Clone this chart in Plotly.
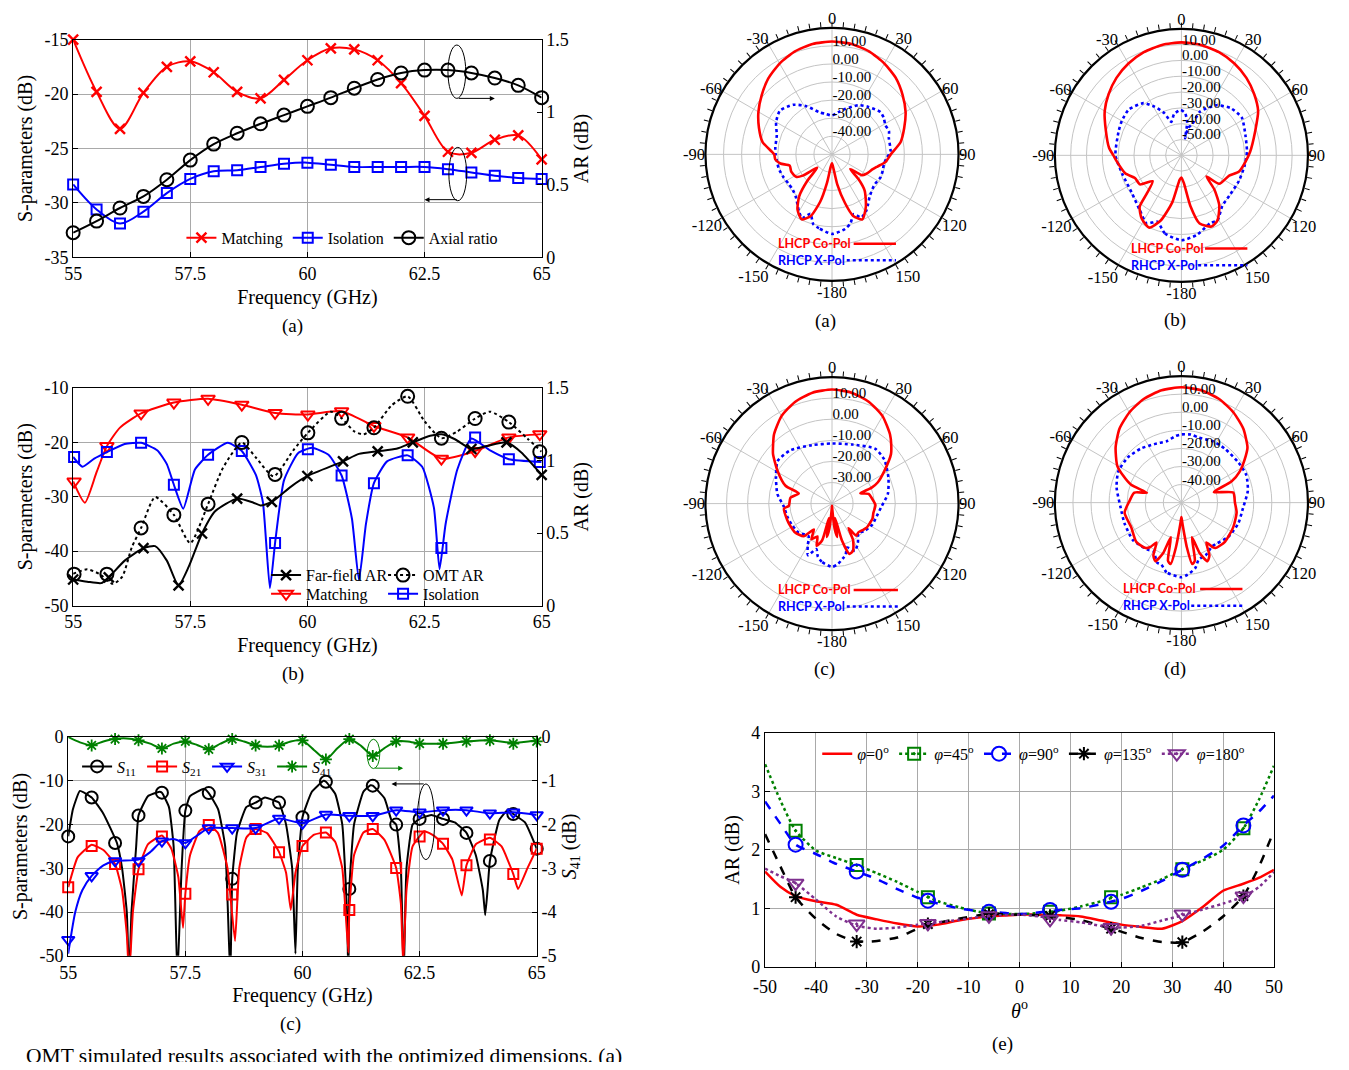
import plotly.graph_objects as go

# page is 1349 x 1070; the browser keeps its default 8 px body margin,
# so the figure itself is 16 px smaller and every pixel position is offset by 8.
PAGE_W, PAGE_H = 1349, 1070
OFF = 8
W, H = PAGE_W - 2 * OFF, PAGE_H - 2 * OFF
SERIF = "Liberation Serif"
SANS = "Lato"
RED, BLUE, BLACK, GREEN, PURPLE = "#ff0000", "#0000ff", "#000000", "#008000", "#7e2f8e"
GRID = "#a9a9a9"
PGRID = "#c4c4c4"

# ---------------- (a) matching / isolation / axial ratio ----------------
a_freq = [55.0, 55.5, 56.0, 56.5, 57.0, 57.5, 58.0, 58.5, 59.0, 59.5, 60.0,
          60.5, 61.0, 61.5, 62.0, 62.5, 63.0, 63.5, 64.0, 64.5, 65.0]
a_matching = [-15.0, -19.8, -23.2, -19.9, -17.5, -17.0, -18.0, -19.8, -20.4, -18.7, -16.9,
              -15.8, -15.9, -16.9, -19.0, -22.0, -25.3, -25.4, -24.2, -23.8, -26.0]
a_isolation = [-28.3, -30.6, -31.9, -30.8, -29.1, -27.8, -27.1, -27.0, -26.7, -26.4, -26.3,
               -26.5, -26.7, -26.7, -26.7, -26.7, -26.9, -27.2, -27.5, -27.7, -27.8]
a_axial_ratio = [0.17, 0.25, 0.34, 0.42, 0.535, 0.67, 0.78, 0.855, 0.92, 0.98, 1.04,
                 1.10, 1.165, 1.225, 1.27, 1.29, 1.29, 1.27, 1.235, 1.185, 1.10]

# ---------------- (b) far-field AR / OMT AR / matching / isolation ----------------
b_ffar_f = [55.0, 55.3, 55.6, 55.76, 56.1, 56.5, 56.75, 57.0, 57.25, 57.47, 57.75, 58.03, 58.5, 58.84,
            59.0, 59.24, 59.65, 60.0, 60.76, 61.1, 61.5, 61.9, 62.25, 62.62, 62.87, 63.15, 63.5,
            63.83, 64.25, 64.56, 65.0]
b_ffar = [0.18, 0.165, 0.155, 0.195, 0.31, 0.396, 0.41, 0.31, 0.139, 0.27, 0.497, 0.65, 0.737, 0.71,
          0.69, 0.714, 0.82, 0.893, 0.994, 1.045, 1.063, 1.08, 1.124, 1.17, 1.18, 1.146, 1.079,
          1.10, 1.124, 1.057, 0.9]
b_ffar_mk_f = [55.0, 55.76, 56.5, 57.25, 57.75, 58.5, 59.24, 60.0, 60.76, 61.5, 62.25, 63.5, 64.25, 65.0]
b_ffar_mk = [0.18, 0.195, 0.396, 0.139, 0.497, 0.737, 0.714, 0.893, 0.994, 1.063, 1.124, 1.079, 1.124, 0.9]

b_omt_f = [55.0, 55.3, 55.55, 55.85, 56.05, 56.25, 56.45, 56.75, 57.15, 57.5, 57.88, 58.2, 58.6, 58.9,
           59.28, 59.7, 60.01, 60.5, 60.73, 61.0, 61.2, 61.42, 61.8, 62.14, 62.5, 62.86, 63.2, 63.58,
           63.9, 64.3, 64.7, 65.0]
b_omt = [0.22, 0.25, 0.22, 0.15, 0.2, 0.4, 0.535, 0.748, 0.625, 0.43, 0.70, 0.95, 1.124, 1.02,
         0.89, 1.07, 1.19, 1.336, 1.29, 1.2, 1.18, 1.225, 1.38, 1.442, 1.27, 1.153, 1.2, 1.289,
         1.336, 1.264, 1.15, 1.06]
b_mk_f = [55.02, 55.72, 56.45, 57.15, 57.88, 58.6, 59.31, 60.01, 60.73, 61.42, 62.14, 62.86, 63.58, 64.3, 64.96]
b_omt_mk = [0.217, 0.217, 0.535, 0.625, 0.699, 1.124, 0.904, 1.19, 1.29, 1.225, 1.442, 1.153, 1.289, 1.264, 1.06]

b_match_f = [55.0, 55.25, 55.5, 55.72, 56.0, 56.45, 57.15, 57.88, 58.6, 59.31, 60.01, 60.73, 61.42,
             62.14, 62.86, 63.58, 64.3, 65.0]
b_match = [-27.2, -31.1, -25.5, -20.7, -17.3, -14.7, -12.7, -12.0, -13.1, -14.6, -14.9, -14.3, -17.0,
           -19.1, -23.0, -21.6, -19.1, -18.5]
b_match_mk = [-27.2, -20.7, -14.7, -12.7, -12.0, -13.1, -14.6, -14.9, -14.3, -17.0, -19.1, -23.0, -21.6, -19.1, -18.5]

b_iso_f = [55.0, 55.2, 55.45, 55.72, 56.1, 56.45, 56.8, 57.0, 57.15, 57.35, 57.6, 57.88, 58.3, 58.6,
           58.9, 59.05, 59.2, 59.31, 59.5, 59.8, 60.1, 60.45, 60.73, 60.95, 61.1, 61.25, 61.42, 61.7,
           62.14, 62.45, 62.7, 62.82, 62.95, 63.2, 63.5, 63.9, 64.3, 65.0]
b_iso = [-22.7, -24.5, -23.0, -21.8, -20.3, -20.1, -21.5, -24.0, -27.8, -32.2, -25.0, -22.3, -20.1, -21.6,
         -26.0, -31.0, -46.8, -38.5, -27.0, -22.0, -21.0, -22.3, -26.1, -34.0, -45.3, -35.0, -27.5, -23.5,
         -22.4, -24.5, -32.0, -43.3, -35.0, -25.0, -19.3, -21.5, -23.1, -23.6]
b_iso_mk = [-22.7, -21.8, -20.1, -27.8, -22.3, -21.6, -38.5, -21.3, -26.1, -27.5, -22.4, -39.4, -19.1, -23.1, -23.6]

# ---------------- (c) S11 / S21 / S31 / S41 ----------------
c_mk_f = [55.0, 55.5, 56.0, 56.5, 57.0, 57.5, 58.0, 58.5, 59.0, 59.5, 60.0,
          60.5, 61.0, 61.5, 62.0, 62.5, 63.0, 63.5, 64.0, 64.5, 65.0]
c_s11_f = [55.0, 55.1, 55.25, 55.5, 55.75, 56.04, 56.15, 56.25, 56.3, 56.35, 56.45, 56.5, 56.7, 56.95,
           57.0, 57.15, 57.25, 57.33, 57.42, 57.5, 57.6, 57.9, 58.0, 58.2, 58.35, 58.46, 58.5, 58.6,
           58.8, 59.0, 59.2, 59.4, 59.5, 59.65, 59.78, 59.85, 59.9, 60.0, 60.2, 60.45, 60.5, 60.7,
           60.85, 60.95, 60.98, 61.0, 61.1, 61.3, 61.45, 61.5, 61.75, 61.9, 62.0, 62.1, 62.16, 62.22,
           62.35, 62.5, 62.75, 63.0, 63.25, 63.5, 63.7, 63.85, 63.9, 63.95, 64.0, 64.2, 64.4, 64.5,
           64.75, 65.0]
c_s11 = [-22.7, -16.5, -12.3, -13.8, -17.5, -24.2, -30, -40, -55, -40, -25, -17.9, -13.5, -12.5,
         -12.7, -16, -25, -55, -30, -16.8, -13.5, -11.8, -12.8, -16.5, -25, -55, -32.4, -22,
         -16, -14.97, -13.8, -14.5, -14.97, -20, -30, -49.5, -30, -18.3, -12.5, -10, -10.2, -13,
         -20, -40, -55, -34.7, -20, -12.5, -11, -11.1, -14, -19, -20, -30, -55, -30,
         -20, -18.7, -17.8, -18.7, -19.5, -21.9, -27, -35, -40.7, -35, -28.3, -19, -16.5, -17.6,
         -19.5, -25.5]
c_s11_mk = [-22.7, -13.8, -24.2, -17.9, -12.7, -16.8, -12.8, -32.4, -14.97, -14.97, -18.3,
            -10.2, -34.7, -11.1, -20.0, -18.7, -18.7, -21.9, -28.3, -17.6, -25.5]

c_s21_f = [55.0, 55.2, 55.5, 55.75, 56.0, 56.15, 56.25, 56.3, 56.38, 56.5, 56.7, 57.0, 57.2, 57.35,
           57.45, 57.5, 57.6, 57.8, 58.0, 58.2, 58.4, 58.56, 58.65, 58.8, 59.0, 59.25, 59.5, 59.65,
           59.75, 59.85, 60.0, 60.25, 60.5, 60.7, 60.85, 60.98, 61.0, 61.1, 61.3, 61.5, 61.75, 62.0,
           62.1, 62.15, 62.22, 62.35, 62.6, 62.8, 63.0, 63.2, 63.4, 63.5, 63.7, 64.0, 64.25, 64.5,
           64.6, 64.8, 65.0]
c_s21 = [-34.3, -27.5, -24.6, -25.8, -29.0, -35, -45, -55, -40, -30.2, -24.5, -22.5, -25.5, -32,
         -43.6, -35.8, -27, -21.5, -20.1, -22, -30, -46.6, -30, -23, -21.0, -22.0, -26.3, -31,
         -39.5, -31, -24.9, -22.3, -21.8, -24, -30, -49.3, -39.5, -27, -21.8, -21.0, -23.5, -29.9,
         -38, -52, -35, -25, -21.5, -22.5, -24.4, -28, -36.2, -29.3, -24.5, -23.0, -25, -31.3,
         -34.7, -30, -25.5]
c_s21_mk = [-34.3, -24.9, -29.0, -30.2, -22.7, -35.8, -20.1, -36.0, -21.0, -26.3, -24.9,
            -21.8, -39.5, -21.0, -29.9, -22.7, -24.4, -29.3, -23.4, -31.3, -25.5]

c_s31_f = [55.0, 55.15, 55.3, 55.5, 55.75, 56.0, 56.5, 56.75, 57.0, 57.25, 57.5, 57.75, 58.0, 58.5,
           59.0, 59.5, 60.0, 60.5, 61.0, 61.5, 62.0, 62.5, 63.0, 63.5, 64.0, 64.5, 65.0]
c_s31 = [-49.5, -40, -35, -31.7, -29.3, -28.3, -28.0, -26.3, -23.8, -23.3, -24.2, -22.5, -20.8, -20.8,
         -20.8, -18.6, -19.7, -17.7, -18.0, -18.0, -16.7, -17.2, -16.7, -16.7, -17.4, -17.2, -17.8]
c_s31_mk = [-46.3, -31.7, -28.3, -28.3, -23.8, -24.2, -20.8, -20.8, -20.8, -18.6, -19.7,
            -17.7, -18.0, -18.0, -16.7, -17.2, -16.7, -16.7, -17.4, -17.2, -17.8]

c_s41_f = [55.0, 55.25, 55.5, 55.75, 56.0, 56.25, 56.5, 56.75, 57.0, 57.25, 57.5, 57.75, 58.0, 58.25,
           58.5, 58.75, 59.0, 59.25, 59.5, 59.75, 60.0, 60.25, 60.5, 60.75, 61.0, 61.25, 61.5, 61.75,
           62.0, 62.25, 62.5, 62.75, 63.0, 63.5, 64.0, 64.5, 65.0]
c_s41 = [0.0, -0.12, -0.19, -0.1, -0.04, -0.03, -0.07, -0.15, -0.26, -0.15, -0.10, -0.18, -0.28, -0.15,
         -0.045, -0.1, -0.19, -0.22, -0.19, -0.1, -0.075, -0.3, -0.51, -0.25, -0.045, -0.2, -0.43, -0.25,
         -0.10, -0.1, -0.15, -0.15, -0.15, -0.10, -0.075, -0.13, -0.07]
c_s41_mk_f = [55.5, 56.0, 56.5, 57.0, 57.5, 58.0, 58.5, 59.0, 59.5, 60.0,
              60.5, 61.0, 61.5, 62.0, 62.5, 63.0, 63.5, 64.0, 64.5, 65.0]
c_s41_mk = [-0.19, -0.045, -0.075, -0.26, -0.10, -0.28, -0.045, -0.19, -0.19, -0.075,
            -0.51, -0.045, -0.43, -0.10, -0.15, -0.15, -0.10, -0.075, -0.15, -0.10]

# ---------------- (e) AR vs theta ----------------
e_theta = [-50, -47, -44, -40, -36, -32, -28, -24, -20, -16, -12, -8, -4, 0,
           4, 8, 12, 16, 20, 24, 28, 32, 36, 40, 44, 47, 50]
e_phi0 = [1.63, 1.37, 1.21, 1.12, 1.06, 0.89, 0.81, 0.74, 0.69, 0.72, 0.79, 0.84, 0.87, 0.89,
          0.89, 0.88, 0.86, 0.79, 0.72, 0.68, 0.65, 0.78, 1.02, 1.3, 1.42, 1.52, 1.66]
e_phi45 = [3.47, 2.85, 2.33, 1.99, 1.86, 1.74, 1.6, 1.45, 1.28, 1.12, 1.02, 0.94, 0.91, 0.9,
           0.92, 0.96, 1.03, 1.12, 1.23, 1.36, 1.5, 1.67, 1.82, 2.0, 2.37, 2.85, 3.44]
e_phi90 = [2.83, 2.45, 2.09, 1.93, 1.76, 1.63, 1.5, 1.33, 1.18, 1.08, 1.0, 0.95, 0.93, 0.9,
           0.93, 0.97, 1.0, 1.07, 1.16, 1.3, 1.47, 1.66, 1.85, 2.07, 2.42, 2.65, 2.93]
e_phi135 = [2.27, 1.72, 1.19, 0.82, 0.56, 0.43, 0.44, 0.5, 0.65, 0.75, 0.82, 0.88, 0.9, 0.89,
            0.88, 0.85, 0.8, 0.7, 0.6, 0.49, 0.42, 0.42, 0.6, 0.86, 1.21, 1.7, 2.33]
e_phi180 = [1.68, 1.55, 1.43, 1.15, 0.86, 0.7, 0.65, 0.67, 0.72, 0.76, 0.8, 0.85, 0.88, 0.89,
            0.86, 0.8, 0.76, 0.7, 0.67, 0.7, 0.79, 0.88, 0.98, 1.08, 1.2, 1.36, 1.62]
e_mk_theta = [-44, -32, -18, -6, 6, 18, 32, 44]
e_phi45_mk = [2.33, 1.74, 1.19, 0.91, 0.94, 1.19, 1.67, 2.37]
e_phi90_mk = [2.09, 1.63, 1.13, 0.94, 0.97, 1.11, 1.66, 2.42]
e_phi135_mk = [1.19, 0.43, 0.73, 0.90, 0.87, 0.65, 0.42, 1.21]
e_phi180_mk = [1.43, 0.73, 0.74, 0.87, 0.81, 0.67, 0.90, 1.21]

# ---------------- polar patterns (theta in deg, gain in dB) ----------------
pa_co_t = [-180, -174, -170, -166, -161, -155, -148, -142, -137, -132, -126, -122, -113, -105, -100, -95, -90,
           -80, -70, -60, -50, -40, -30, -20, -10, 0, 10, 20, 30, 40, 50, 60, 70, 80, 90, 98, 105, 110,
           120, 125, 129, 133, 138, 147, 155, 161, 165, 170, 175, 180]
pa_co = [-45, -43, -34, -23, -14, -10.3, -14, -20.5, -30, -39, -30, -26.6, -25.5, -25.8, -21, -18.5, -18,
         -11, -7, -3, 0.8, 4.8, 8, 10.5, 12, 12.4, 12, 10.5, 8, 5, 1, -3, -7.5, -11.5, -17.5, -20, -24, -26,
         -28.3, -30, -37, -30, -23, -15.6, -10.3, -14, -22, -33, -43, -45]
pa_x_t = [-180, -170, -165, -160, -155, -150, -146, -140, -132, -124, -115, -105, -97, -90, -83, -71, -60,
          -50, -38, -28, -17, -8, 0, 8, 16, 28, 37, 49, 55, 61, 68, 74, 87, 95, 101, 108, 115, 126, 138,
          145, 149, 155, 160, 165, 170, 180]
pa_x = [-6, -8.5, -10, -15, -11, -13.5, -16, -19, -20.8, -21, -20.3, -19.5, -19.3, -18.8, -18.4, -17.7, -14.3,
        -12.4, -15.2, -19.8, -25.6, -27.5, -28.5, -26.5, -23.9, -19.2, -17, -14.4, -15, -16.3, -16, -17.3, -17.6,
        -20, -20.8, -20.5, -20.3, -21.1, -18.8, -15.5, -13.4, -11.5, -14.8, -10.5, -8.1, -6]

pb_co_t = [-180, -176, -169, -162.5, -156, -148, -141, -138, -132, -125, -116, -108, -96, -90, -84, -72, -60,
           -50, -40, -30, -20, -10, 0, 10, 20, 30, 40, 50, 60, 72, 87, 96, 106, 113, 127, 130, 136, 143, 151,
           157, 165, 170, 175, 180]
pb_co = [-46, -44.6, -29.7, -17, -10, -12.7, -18, -27, -35.6, -28, -27.3, -22.8, -19.2, -17, -14, -9.8, -4,
         0.1, 3.9, 7, 9.4, 10.9, 11.4, 10.9, 9.4, 7, 3.9, 0.1, -4, -11, -16.5, -19.4, -22.3, -27.2, -30.1,
         -39.3, -30, -20.2, -13, -11.1, -15.4, -27.7, -42.5, -46]
pb_x_t = [-180, -168, -160, -153, -143, -127, -107, -90, -69, -60, -49, -36, -29, -22, -17, -10, -1, 5, 10,
          12.3, 14, 19, 23, 35, 46, 58, 72, 87, 99, 114, 130, 141, 151, 157, 169, 180]
pb_x = [-6.3, -9.6, -15.4, -11.6, -16.4, -20.7, -20.8, -18.3, -17.5, -16.5, -15.9, -19.2, -24.8, -31.2, -37.9,
        -33.5, -31.3, -33.2, -39, -49, -42, -39.4, -30, -21.4, -16.9, -15, -17.5, -18.5, -19.5, -20.2, -20.4,
        -18.9, -13, -13.4, -8.8, -6.3]

pc_co_t = [-180, -177, -174, -171, -168, -165, -160, -156, -150, -145, -139, -128, -119, -110, -96, -93, -82,
           -73, -69, -59, -50, -45, -40, -30, -20, -10, 0, 10, 20, 30, 40, 45, 50, 58, 65, 68, 70, 75, 82,
           92, 103, 110, 117, 125, 130, 137, 143, 146, 150, 156, 161, 165, 168, 171, 174, 177, 180]
pc_co = [-39, -37, -28, -24, -33, -22, -18.7, -23, -20.5, -25, -19.5, -17.8, -17.6, -17.4, -17.1, -19.5, -20.1,
         -23.5, -16.4, -9.9, -3.5, -0.5, 2.8, 7.9, 11.3, 13.4, 14.1, 13.4, 11.3, 7.9, 2.8, -0.3, -3.5, -10.7,
         -16, -19.7, -25.7, -22, -21, -19.4, -19.9, -19.5, -19.8, -20, -20.7, -21.5, -21, -26, -20, -15.5,
         -14.8, -22, -33, -24, -28, -37, -39]
pc_x_t = [-180, -170, -165, -161, -155, -150, -144, -131, -118, -106, -94, -80, -65, -52, -38, -19, 0, 19,
          38, 50, 65, 80, 94, 106, 118, 130, 138, 146, 154, 161, 165, 169, 175, 180]
pc_x = [-10, -12, -14, -17.2, -13, -17, -21, -19, -18.5, -17.9, -17.2, -13.7, -10.7, -7.3, -7.9, -10.7, -11.5,
        -10.4, -6.9, -7.6, -10.5, -13.1, -16.6, -18, -18.5, -19.8, -21.3, -18, -15.1, -18, -15, -13.4, -11, -10]

pd_co_t = [-180, -177, -173, -170, -167, -163, -160, -156, -152, -148, -145, -142, -131, -116, -100, -88, -78,
           -74, -70.5, -65, -60, -50, -40, -30, -20, -10, 0, 10, 20, 30, 40, 50, 54, 62, 67, 72, 79, 90, 100,
           115, 132, 143, 145, 148, 152, 156, 160, 163, 167, 170, 173, 177, 180]
pd_co = [-42, -38, -25, -15.5, -17, -30, -20, -14.5, -17, -24, -20, -18.1, -16.9, -19.1, -18.1, -21.3, -23.4,
         -30.2, -20.5, -14.3, -9, -2.5, 3.3, 7.6, 11, 13.1, 13.8, 13.1, 11, 7.6, 3.3, -2.3, -6, -13.5, -19.8,
         -31.1, -20.8, -20.4, -19, -18.3, -17.6, -18.6, -20, -24, -17, -14.5, -20, -30, -17, -15.5, -25, -38, -42]
pd_x_t = [-180, -168, -162, -158, -150, -144, -128, -110, -95, -77, -64, -50, -37, -25, -13, -5, 0, 8, 15,
          27, 39, 55, 67, 80, 95, 110, 126, 145, 155, 163, 168, 175, 180]
pd_x = [-8.7, -10.6, -14, -14.2, -19, -17.9, -16.1, -16.5, -16.3, -13.2, -11.1, -11.2, -12.6, -14.3, -15, -13,
        -12.3, -12, -12.8, -11.9, -11.7, -11.4, -11, -12.7, -15.8, -16.5, -17.9, -20.4, -18, -17.1, -13, -10, -8.7]

# ---------------- tick labels ----------------
freq_ticks = [55, 57.5, 60, 62.5, 65]
freq_ticktext = ["55", "57.5", "60", "62.5", "65"]
a_left_ticks = [-35, -30, -25, -20, -15]
ar_ticks = [0, 0.5, 1, 1.5]
b_left_ticks = [-50, -40, -30, -20, -10]
c_left_ticks = [-50, -40, -30, -20, -10, 0]
c_right_ticks = [-5, -4, -3, -2, -1, 0]
e_x_ticks = [-50, -40, -30, -20, -10, 0, 10, 20, 30, 40, 50]
e_y_ticks = [0, 1, 2, 3, 4]
ang_ticks = [0, 30, 60, 90, 120, 150, 180, 210, 240, 270, 300, 330]
ang_ticktext = ["0", "30", "60", "90", "120", "150", "-180", "-150", "-120", "-90", "-60", "-30"]
ring_ticks_a = [-40, -30, -20, -10, 0, 10]
ring_ticks_b = [-50, -40, -30, -20, -10, 0, 10]
ring_ticks_c = [-30, -20, -10, 0, 10]
ring_ticks_d = [-40, -30, -20, -10, 0, 10]


def txt(vals):
    return [f"{v:g}" for v in vals]


def rtxt(vals):
    return [f"{v:.2f}" for v in vals]


def fx(px):
    return (px - OFF) / W


def fy(py):
    return 1 - (py - OFF) / H


fig = go.Figure()


def add_series(xl, yl, xm, ym, name, color, symbol, msize, xa, ya, legend,
               dash="solid", lw=2, smoothing=0.6, mlw=2, legend_marker=True):
    fig.add_trace(go.Scatter(x=xl, y=yl, mode="lines", xaxis=xa, yaxis=ya, showlegend=False,
                             line=dict(color=color, width=lw, dash=dash, shape="spline", smoothing=smoothing),
                             hoverinfo="skip"))
    mk = dict(symbol=symbol, size=msize, color=color, line=dict(color=color, width=mlw))
    if xm is not None:
        fig.add_trace(go.Scatter(x=xm, y=ym, mode="markers", xaxis=xa, yaxis=ya, showlegend=False,
                                 marker=mk, cliponaxis=False))
    fig.add_trace(go.Scatter(x=[None], y=[None], mode="lines+markers" if legend_marker else "lines",
                             name=name, xaxis=xa, yaxis=ya, legend=legend,
                             line=dict(color=color, width=lw, dash=dash), marker=mk))


# (a)
add_series(a_freq, a_matching, a_freq, a_matching, "Matching", RED, "x-thin", 10, "x", "y", "legend",
           smoothing=0.9, mlw=2.4)
add_series(a_freq, a_isolation, a_freq, a_isolation, "Isolation", BLUE, "square-open", 10, "x", "y", "legend",
           smoothing=0.9)
add_series(a_freq, a_axial_ratio, a_freq, a_axial_ratio, "Axial ratio", BLACK, "circle-open", 13, "x", "y2",
           "legend", smoothing=0.9)

# (b)
add_series(b_ffar_f, b_ffar, b_ffar_mk_f, b_ffar_mk, "Far-field AR", BLACK, "x-thin", 10, "x2", "y4", "legend2",
           mlw=2.4)
add_series(b_omt_f, b_omt, b_mk_f, b_omt_mk, "OMT AR", BLACK, "circle-open", 13, "x2", "y4", "legend2",
           dash="dot")
add_series(b_match_f, b_match, b_mk_f, b_match_mk, "Matching", RED, "triangle-down-open", 12, "x2", "y3",
           "legend3")
add_series(b_iso_f, b_iso, b_mk_f, b_iso_mk, "Isolation", BLUE, "square-open", 10, "x2", "y3", "legend3",
           smoothing=0.5)

# (c)
add_series(c_s11_f, c_s11, c_mk_f, c_s11_mk, "<i>S</i><sub>11</sub>", BLACK, "circle-open", 12, "x3", "y5",
           "legend4", smoothing=0.4)
add_series(c_s21_f, c_s21, c_mk_f, c_s21_mk, "<i>S</i><sub>21</sub>", RED, "square-open", 10, "x3", "y5",
           "legend4", smoothing=0.4)
add_series(c_s31_f, c_s31, c_mk_f, c_s31_mk, "<i>S</i><sub>31</sub>", BLUE, "triangle-down-open", 11, "x3",
           "y5", "legend4")
add_series(c_s41_f, c_s41, c_s41_mk_f, c_s41_mk, "<i>S</i><sub>41</sub>", GREEN, "asterisk-open", 10, "x3",
           "y6", "legend4", mlw=1.8)

# (e)
add_series(e_theta, e_phi0, None, None, "<i>φ</i>=0<sup>o</sup>", RED, "circle", 1, "x4", "y7", "legend5",
           lw=2.5, legend_marker=False)
add_series(e_theta, e_phi45, e_mk_theta, e_phi45_mk, "<i>φ</i>=45<sup>o</sup>", GREEN, "square-open-dot", 12,
           "x4", "y7", "legend5", dash="dot", lw=2.5)
add_series(e_theta, e_phi90, e_mk_theta, e_phi90_mk, "<i>φ</i>=90<sup>o</sup>", BLUE, "circle-open", 14,
           "x4", "y7", "legend5", dash="dash", lw=2.5)
add_series(e_theta, e_phi135, e_mk_theta, e_phi135_mk, "<i>φ</i>=135<sup>o</sup>", BLACK, "asterisk-open", 11,
           "x4", "y7", "legend5", dash="dash", lw=2.5)
add_series(e_theta, e_phi180, e_mk_theta, e_phi180_mk, "<i>φ</i>=180<sup>o</sup>", PURPLE,
           "triangle-down-open-dot", 14, "x4", "y7", "legend5", dash="dot", lw=2.5)

# polar traces
polar_sets = [
    ("polar", pa_co_t, pa_co, pa_x_t, pa_x),
    ("polar2", pb_co_t, pb_co, pb_x_t, pb_x),
    ("polar3", pc_co_t, pc_co, pc_x_t, pc_x),
    ("polar4", pd_co_t, pd_co, pd_x_t, pd_x),
]
for sp, ct, cv, xt, xv in polar_sets:
    fig.add_trace(go.Scatterpolar(theta=xt, r=xv, mode="lines", subplot=sp, showlegend=False,
                                  line=dict(color=BLUE, width=2.6, dash="dot", shape="spline", smoothing=0.6)))
    fig.add_trace(go.Scatterpolar(theta=ct, r=cv, mode="lines", subplot=sp, showlegend=False,
                                  line=dict(color=RED, width=2.6, shape="spline", smoothing=0.6)))
for sp in ["polar5", "polar6", "polar7", "polar8"]:
    fig.add_trace(go.Scatterpolar(theta=[None], r=[None], mode="lines", subplot=sp, showlegend=False))


# ---------------- axes ----------------
def xax(p0, p1, anchor, rng, tv, tt, title):
    return dict(domain=[fx(p0), fx(p1)], anchor=anchor, range=rng, tickvals=tv, ticktext=tt,
                showgrid=True, gridcolor=GRID, gridwidth=1, zeroline=False,
                showline=True, linecolor="black", linewidth=1.2, mirror=True,
                ticks="inside", ticklen=5, tickcolor="black",
                tickfont=dict(family=SERIF, size=18),
                title=dict(text=title, font=dict(family=SERIF, size=20), standoff=6))


def yax(p0, p1, anchor, rng, tv, tt, title, grid=True):
    return dict(domain=[fy(p1), fy(p0)], anchor=anchor, range=rng, tickvals=tv, ticktext=tt,
                showgrid=grid, gridcolor=GRID, gridwidth=1, zeroline=False,
                showline=True, linecolor="black", linewidth=1.2, mirror=True,
                ticks="inside", ticklen=5, tickcolor="black",
                tickfont=dict(family=SERIF, size=18),
                title=dict(text=title, font=dict(family=SERIF, size=20), standoff=6))


def y2ax(base, anchor, rng, tv, tt, title):
    return dict(overlaying=base, side="right", anchor=anchor, range=rng, tickvals=tv, ticktext=tt,
                showgrid=False, zeroline=False, showline=True, linecolor="black", linewidth=1.2,
                ticks="inside", ticklen=5, tickcolor="black",
                tickfont=dict(family=SERIF, size=18),
                title=dict(text=title, font=dict(family=SERIF, size=20), standoff=6))


def polar_main(cx, cy, rad, rrange, rticks):
    return dict(domain=dict(x=[fx(cx - rad), fx(cx + rad)], y=[fy(cy + rad), fy(cy - rad)]),
                bgcolor="white",
                angularaxis=dict(rotation=90, direction="clockwise", tickvals=ang_ticks, ticktext=ang_ticktext,
                                 showline=False, ticks="", showgrid=True, gridcolor=PGRID, gridwidth=1,
                                 tickfont=dict(family=SERIF, size=16.5, color="black")),
                radialaxis=dict(range=rrange, tickvals=rticks, showticklabels=False, angle=90,
                                showline=False, ticks="", showgrid=True, gridcolor=PGRID, gridwidth=1))


def polar_ring(cx, cy, rad, rrange, rticks):
    # ring with fine angular ticks; its radial axis carries the ring labels, lifted a few px above each ring
    lift = 5.0 * (rrange[1] - rrange[0]) / rad
    return dict(domain=dict(x=[fx(cx - rad), fx(cx + rad)], y=[fy(cy + rad), fy(cy - rad)]),
                bgcolor="rgba(0,0,0,0)",
                angularaxis=dict(rotation=90, direction="clockwise", tickvals=list(range(0, 360, 5)),
                                 showticklabels=False, ticks="outside", ticklen=5, tickwidth=1.2,
                                 tickcolor="black", showline=True, linecolor="black", linewidth=2.2,
                                 showgrid=False),
                radialaxis=dict(range=rrange, tickvals=[v + lift for v in rticks], ticktext=rtxt(rticks),
                                angle=90, tickangle=90, side="clockwise", showline=False, ticks="",
                                showgrid=False, tickfont=dict(family=SERIF, size=15, color="black")))


PR = 129
pol = [(833, 147, [-50, 20], ring_ticks_a), (1188, 148, [-60, 20], ring_ticks_b),
       (833, 503, [-40, 20], ring_ticks_c), (1188, 502, [-50, 20], ring_ticks_d)]

layout = dict(
    width=W, height=H, margin=dict(l=0, r=0, t=0, b=0),
    paper_bgcolor="white", plot_bgcolor="white",
    font=dict(family=SERIF, size=18, color="black"),
    showlegend=True,
    xaxis=xax(62, 538, "y", [55, 65], freq_ticks, freq_ticktext, "Frequency (GHz)"),
    yaxis=yax(30, 252, "x", [-35, -15], a_left_ticks, txt(a_left_ticks), "S-parameters (dB)"),
    yaxis2=y2ax("y", "x", [0, 1.5], ar_ticks, txt(ar_ticks), "AR (dB)"),
    xaxis2=xax(62, 538, "y3", [55, 65], freq_ticks, freq_ticktext, "Frequency (GHz)"),
    yaxis3=yax(385, 607, "x2", [-50, -10], b_left_ticks, txt(b_left_ticks), "S-parameters (dB)"),
    yaxis4=y2ax("y3", "x2", [0, 1.5], ar_ticks, txt(ar_ticks), "AR (dB)"),
    xaxis3=xax(57, 533, "y5", [55, 65], freq_ticks, freq_ticktext, "Frequency (GHz)"),
    yaxis5=yax(741, 964, "x3", [-50, 0], c_left_ticks, txt(c_left_ticks), "S-parameters (dB)"),
    yaxis6=y2ax("y5", "x3", [-5, 0], c_right_ticks, txt(c_right_ticks), "<i>S</i><sub>41</sub> (dB)"),
    xaxis4=xax(765, 1282, "y7", [-50, 50], e_x_ticks, txt(e_x_ticks), "<i>θ</i><sup>o</sup>"),
    yaxis7=yax(737, 975, "x4", [0, 4], e_y_ticks, txt(e_y_ticks), "AR (dB)"),
    legend=dict(x=fx(172), y=fy(232), xanchor="left", yanchor="middle", orientation="h",
                bgcolor="rgba(0,0,0,0)", font=dict(family=SERIF, size=16), itemwidth=30),
    legend2=dict(x=fx(258), y=fy(576), xanchor="left", yanchor="middle", orientation="h",
                 bgcolor="rgba(0,0,0,0)", font=dict(family=SERIF, size=16), itemwidth=30,
                 entrywidthmode="pixels", entrywidth=72),
    legend3=dict(x=fx(258), y=fy(595), xanchor="left", yanchor="middle", orientation="h",
                 bgcolor="rgba(0,0,0,0)", font=dict(family=SERIF, size=16), itemwidth=30,
                 entrywidthmode="pixels", entrywidth=72),
    legend4=dict(x=fx(66), y=fy(771), xanchor="left", yanchor="middle", orientation="h",
                 bgcolor="rgba(0,0,0,0)", font=dict(family=SERIF, size=16), itemwidth=30,
                 entrywidthmode="pixels", entrywidth=20),
    legend5=dict(x=fx(818), y=fy(758), xanchor="left", yanchor="middle", orientation="h",
                 bgcolor="rgba(0,0,0,0)", font=dict(family=SERIF, size=16), itemwidth=30),
)
for i, (cx, cy, rr, rt) in enumerate(pol):
    key = "polar" if i == 0 else f"polar{i + 1}"
    layout[key] = polar_main(cx, cy, PR, rr, rt)
    layout[f"polar{i + 5}"] = polar_ring(cx, cy, PR, rr, rt)
fig.update_layout(**layout)
fig.update_xaxes(ticklabelstandoff=4, selector=dict(anchor="y7"))

# ---------------- annotations & shapes ----------------
ann = []
shapes = []
captions = [("(a)", 285, 322), ("(b)", 285, 677), ("(c)", 283, 1033), ("(a)", 826, 317), ("(b)", 1181, 316),
            ("(c)", 825, 672), ("(d)", 1181, 672), ("(e)", 1006, 1054)]
for t, x, y in captions:
    ann.append(dict(text=t, x=fx(x), y=fy(y), xref="paper", yref="paper", showarrow=False,
                    xanchor="center", yanchor="middle", font=dict(family=SERIF, size=19)))

# pseudo legends in polar plots
pleg = [(776, 238, 255, 855, 848, 898), (1135, 243, 260, 1212, 1205, 1255),
        (776, 591, 608, 855, 848, 900), (1127, 590, 607, 1207, 1198, 1250)]
for tx, y1, y2, l1, l2, le in pleg:
    ann.append(dict(text="<b>LHCP Co-Pol</b>", x=fx(tx), y=fy(y1), xref="paper", yref="paper", showarrow=False,
                    xanchor="left", yanchor="middle", font=dict(family=SANS, size=12.5, color=RED)))
    ann.append(dict(text="<b>RHCP X-Pol</b>", x=fx(tx), y=fy(y2), xref="paper", yref="paper", showarrow=False,
                    xanchor="left", yanchor="middle", font=dict(family=SANS, size=12.5, color=BLUE)))
    shapes.append(dict(type="line", xref="paper", yref="paper", x0=fx(l1), x1=fx(le), y0=fy(y1), y1=fy(y1),
                       line=dict(color=RED, width=2.5)))
    shapes.append(dict(type="line", xref="paper", yref="paper", x0=fx(l2), x1=fx(le), y0=fy(y2), y1=fy(y2),
                       line=dict(color=BLUE, width=2.5, dash="dot")))

# ellipses and arrows
shapes.append(dict(type="circle", xref="x", yref="y", x0=63.0, x1=63.38, y0=-20.4, y1=-15.5,
                   line=dict(color=BLACK, width=1)))
shapes.append(dict(type="circle", xref="x", yref="y", x0=63.02, x1=63.4, y0=-29.8, y1=-24.9,
                   line=dict(color=BLACK, width=1)))
shapes.append(dict(type="circle", xref="x3", yref="y6", x0=61.38, x1=61.65, y0=-0.72, y1=-0.05,
                   line=dict(color=GREEN, width=1)))
shapes.append(dict(type="circle", xref="x3", yref="y5", x0=62.45, x1=62.82, y0=-28.0, y1=-10.7,
                   line=dict(color=BLACK, width=1)))
arrows = [("x", "y", 63.2, -20.4, 64.0, -20.4, BLACK), ("x", "y", 63.22, -29.7, 62.5, -29.7, BLACK),
          ("x3", "y6", 61.52, -0.71, 62.15, -0.71, GREEN), ("x3", "y5", 62.62, -10.7, 61.9, -10.7, BLACK)]
for xr, yr, x0, y0, x1, y1, col in arrows:
    ann.append(dict(text="", x=x1, y=y1, ax=x0, ay=y0, xref=xr, yref=yr, axref=xr, ayref=yr, showarrow=True,
                    arrowhead=2, arrowsize=1, arrowwidth=1, arrowcolor=col))

# truncated caption text at the bottom (cut by the page edge, as in the source)
ann.append(dict(text="OMT simulated results associated with the optimized dimensions. (a)", x=fx(12), y=fy(1066),
                xref="paper", yref="paper", showarrow=False, xanchor="left", yanchor="middle",
                font=dict(family=SERIF, size=21.5)))

fig.update_layout(annotations=ann, shapes=shapes)

fig.write_html("out.html", config={"displayModeBar": False})
